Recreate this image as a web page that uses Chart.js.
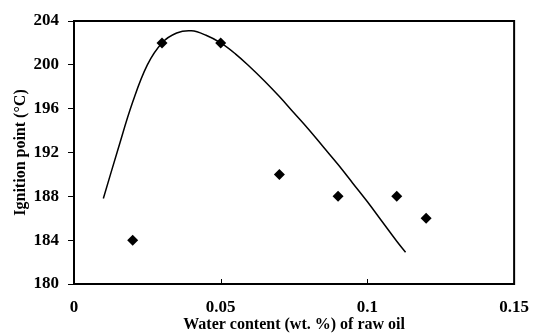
<!DOCTYPE html>
<html>
<head>
<meta charset="utf-8">
<script src="https://cdn.jsdelivr.net/npm/chart.js@4"></script>
<style>
  body { margin: 0; background: #fff; }
  #wrap { width: 534px; height: 335px; }
</style>
</head>
<body>
<div id="wrap"><canvas id="myChart" width="534" height="335"></canvas></div>
<script>
// measured points (diamonds)
const waterContent = [0.02, 0.03, 0.05, 0.07, 0.09, 0.11, 0.12];
const ignitionPoint = [184, 202, 202, 190, 188, 188, 186];

// fitted curve
const fitX = [0.01, 0.015, 0.02, 0.025, 0.03, 0.035, 0.04, 0.045, 0.05, 0.055, 0.06, 0.065, 0.07, 0.075, 0.08, 0.085, 0.09, 0.095, 0.1, 0.105, 0.11, 0.113];
const fitY = [187.8, 192.3, 196.6, 200.0, 202.0, 202.9, 203.1, 202.7, 202.0, 201.0, 199.8, 198.5, 197.1, 195.6, 194.1, 192.5, 190.9, 189.2, 187.5, 185.7, 183.9, 182.9];

const xTicks = [0, 0.05, 0.1, 0.15];

const serif = "'Liberation Serif', 'Times New Roman', serif";

// box around plot + inward ticks on x axis
const frame = {
  id: "frame",
  afterDraw(chart) {
    const ctx = chart.ctx;
    const a = chart.chartArea;
    const xs = chart.scales.x;
    ctx.save();
    ctx.strokeStyle = "#000";
    ctx.lineWidth = 2;
    ctx.strokeRect(a.left, a.top, a.right - a.left, a.bottom - a.top);
    ctx.lineWidth = 1;
    xTicks.slice(1, -1).forEach((v) => {
      const px = Math.round(xs.getPixelForValue(v)) + 0.5;
      ctx.beginPath();
      ctx.moveTo(px, a.bottom);
      ctx.lineTo(px, a.bottom - 5);
      ctx.stroke();
    });
    ctx.restore();
  },
};

const ctx = document.getElementById("myChart").getContext("2d");
new Chart(ctx, {
  type: "scatter",
  data: {
    datasets: [
      {
        label: "measured",
        data: waterContent.map((x, i) => ({ x: x, y: ignitionPoint[i] })),
        pointStyle: "rectRot",
        pointRadius: 5.5,
        backgroundColor: "#000",
        borderColor: "#000",
        borderWidth: 0,
      },
      {
        label: "fit",
        data: fitX.map((x, i) => ({ x: x, y: fitY[i] })),
        showLine: true,
        pointRadius: 0,
        borderColor: "#000",
        borderWidth: 1.5,
        tension: 0.4,
      },
    ],
  },
  options: {
    responsive: false,
    animation: false,
    layout: { padding: { top: 21, right: 17, left: 0, bottom: 0 } },
    plugins: {
      legend: { display: false },
      tooltip: { enabled: false },
    },
    scales: {
      x: {
        type: "linear",
        min: 0,
        max: 0.15,
        afterBuildTicks: (s) => {
          s.ticks = xTicks.map((v) => ({ value: v }));
        },
        afterFit: (s) => {
          s.height = 51;
        },
        grid: { display: false },
        border: { display: false },
        ticks: {
          color: "#000",
          padding: 5,
          font: { family: serif, size: 17, weight: "bold" },
          maxRotation: 0,
          callback: (v) => String(v),
        },
        title: {
          display: true,
          text: "Water content (wt. %) of raw oil",
          color: "#000",
          font: { family: serif, size: 16, weight: "bold" },
          padding: { top: 0, bottom: 1 },
        },
      },
      y: {
        min: 180,
        max: 204,
        afterFit: (s) => {
          s.width = 74;
        },
        grid: {
          drawOnChartArea: false,
          drawTicks: true,
          tickLength: 6,
          color: "#000",
        },
        border: { display: false },
        ticks: {
          stepSize: 4,
          color: "#000",
          padding: 9,
          font: { family: serif, size: 17, weight: "bold" },
        },
        title: {
          display: true,
          text: "Ignition point (°C)",
          color: "#000",
          font: { family: serif, size: 16, weight: "bold" },
          padding: { top: 11, bottom: 0 },
        },
      },
    },
  },
  plugins: [frame],
});
</script>
</body>
</html>
